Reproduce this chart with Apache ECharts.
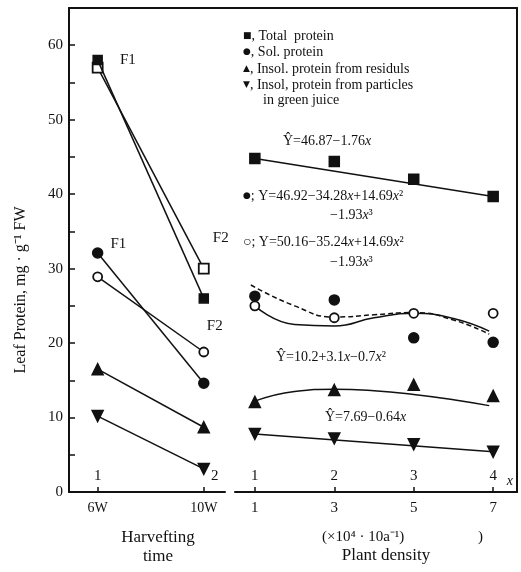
<!DOCTYPE html>
<html><head><meta charset="utf-8">
<script src="https://cdn.jsdelivr.net/npm/echarts@6/dist/echarts.min.js"></script>
<style>html,body{margin:0;padding:0;background:#fff}#c{width:521px;height:572px}</style>
</head><body><div id="c"></div>
<script>
// ---- data ----
const harvestTicks = [1, 2];
const harvestLabels = ['6W', '10W'];
const harvestIndex = ['1', '2'];
const harvestTotal = [58.0, 26.0];
const harvestTotalF2 = [57.0, 30.0];
const harvestSol = [32.1, 14.6];
const harvestSolF2 = [28.9, 18.8];
const harvestResid = [16.5, 8.7];
const harvestParticle = [10.2, 3.1];

const densityTicks = [1, 3, 5, 7];
const densityIndex = ['1', '2', '3', '4'];
const densityTotal = [44.8, 44.4, 42.0, 39.7];
const densitySol = [26.3, 25.8, 20.7, 20.1];
const densitySolOpen = [25.0, 23.4, 24.0, 24.0];
const densityResid = [12.1, 13.7, 14.4, 12.9];
const densityParticle = [7.8, 7.2, 6.4, 5.4];

const fitTotalX = [1, 7];
const fitTotalY = [44.8, 39.7];
const fitSolX = [0.9, 2, 3, 4, 5, 6, 6.9];
const fitSolY = [27.8, 25.0, 23.5, 23.8, 24.1, 23.1, 21.2];
const fitSolOpenX = [1, 2, 3, 4, 5, 6, 6.9];
const fitSolOpenY = [25.0, 22.5, 22.3, 23.4, 24.0, 23.3, 21.6];
const fitResidX = [1, 2, 3, 4, 5, 6, 6.9];
const fitResidY = [12.2, 13.5, 13.8, 13.6, 13.1, 12.4, 11.6];
const fitParticleX = [1, 7];
const fitParticleY = [7.8, 5.4];

const yTicks = [0, 5, 10, 15, 20, 25, 30, 35, 40, 45, 50, 55, 60];
const yLabels = [0, 10, 20, 30, 40, 50, 60];

// ---- styles ----
const FF = 'Liberation Serif';
const BLACK = '#111';
const zip = (xs, ys) => xs.map((x, i) => [x, ys[i]]);

function pointSeries(xi, yi, xs, ys, symbol, size, opts) {
  opts = opts || {};
  return Object.assign({
    type: 'line', xAxisIndex: xi, yAxisIndex: yi,
    data: zip(xs, ys), symbol: symbol, symbolSize: size,
    showSymbol: true, z: 5,
    lineStyle: { color: BLACK, width: 1.5 },
    itemStyle: { color: BLACK, borderColor: BLACK, borderWidth: 1.5 },
    emphasis: { disabled: true }, animation: false
  }, opts);
}
function scatterSeries(xs, ys, symbol, size, opts) {
  return Object.assign({
    type: 'scatter', xAxisIndex: 2, yAxisIndex: 1,
    data: zip(xs, ys), symbol: symbol, symbolSize: size, z: 6,
    itemStyle: { color: BLACK, borderColor: BLACK, borderWidth: 1.5, opacity: 1 },
    emphasis: { disabled: true }, animation: false
  }, opts || {});
}
function fitSeries(xs, ys, smooth, type) {
  return {
    type: 'line', xAxisIndex: 2, yAxisIndex: 1, data: zip(xs, ys),
    smooth: smooth, showSymbol: false, symbol: 'none', z: 3,
    lineStyle: { color: BLACK, width: 1.5, type: type || 'solid' },
    emphasis: { disabled: true }, animation: false
  };
}
function labelled(xs, ys, idx, text, pos, offset) {
  return zip(xs, ys).map((p, i) => i === idx ? {
    value: p,
    label: { show: true, formatter: text, position: pos, offset: offset,
      fontFamily: FF, fontSize: 15, color: BLACK }
  } : p);
}

const rich = {
  i: { fontFamily: FF, fontStyle: 'italic', fontSize: 14, color: BLACK },
  s: { fontFamily: 'DejaVu Sans', fontSize: 9, color: BLACK }
};
function txt(text, left, top, size) {
  return { text: text, left: left, top: top, padding: 0,
    textStyle: { fontFamily: FF, fontSize: size || 14, fontWeight: 'normal', color: BLACK, rich: rich } };
}

const axisLine = { show: true, onZero: false, lineStyle: { color: BLACK, width: 2 } };

const option = {
  backgroundColor: '#fff',
  animation: false,
  title: [
    txt('{s|■}, Total  protein', 243, 29),
    txt('{s|●}, Sol. protein', 243, 45),
    txt('{s|▲}, Insol. protein from residuls', 243, 62),
    txt('{s|▼}, Insol, protein from particles', 243, 78),
    txt('in green juice', 263, 93),
    txt('Ŷ=46.87−1.76{i|x}', 283, 134),
    txt('{s|●}; Y=46.92−34.28{i|x}+14.69{i|x}²', 243, 189),
    txt('−1.93{i|x}³', 330, 208),
    txt('○; Y=50.16−35.24{i|x}+14.69{i|x}²', 243, 235),
    txt('−1.93{i|x}³', 330, 255),
    txt('Ŷ=10.2+3.1{i|x}−0.7{i|x}²', 276, 350),
    txt('Ŷ=7.69−0.64{i|x}', 325, 410),
    txt('(×10⁴ · 10a⁻¹)', 322, 530, 15),
    txt(')', 478, 530, 15)
  ],
  grid: [
    { left: 69, right: 296, top: 8, bottom: 80 },
    { left: 235, right: 4, top: 8, bottom: 80 },
    { left: 69, right: 4, top: 8, bottom: 80 }
  ],
  xAxis: [
    { gridIndex: 0, type: 'value', min: 0.73, max: 2.2, position: 'bottom',
      axisLine: axisLine,
      axisTick: { show: true, inside: true, length: 5, customValues: harvestTicks, lineStyle: { color: BLACK, width: 1.5 } },
      axisLabel: { customValues: harvestTicks, formatter: v => harvestLabels[harvestTicks.indexOf(v)],
        margin: 9, fontFamily: FF, fontSize: 14, color: BLACK },
      splitLine: { show: false },
      name: 'Harvefting\ntime', nameLocation: 'middle', nameGap: 36,
      nameTextStyle: { fontFamily: FF, fontSize: 17, color: BLACK, lineHeight: 19, padding: [0, 0, 0, 22] } },
    { gridIndex: 0, type: 'value', min: 0.73, max: 2.2, position: 'bottom',
      axisLine: { show: false }, axisTick: { show: false }, splitLine: { show: false },
      axisLabel: { inside: true, customValues: harvestTicks, margin: 8,
        formatter: v => (v === 2 ? '{r|' : '{l|') + harvestIndex[harvestTicks.indexOf(v)] + '}',
        rich: { l: { fontFamily: FF, fontSize: 15, color: BLACK },
                r: { fontFamily: FF, fontSize: 15, color: BLACK, padding: [0, 0, 0, 22] } } } },
    { gridIndex: 1, type: 'value', min: 0.5, max: 7.6, position: 'bottom',
      axisLine: axisLine,
      axisTick: { show: true, inside: true, length: 5, customValues: densityTicks, lineStyle: { color: BLACK, width: 1.5 } },
      axisLabel: { customValues: densityTicks, margin: 9, fontFamily: FF, fontSize: 15, color: BLACK },
      splitLine: { show: false },
      name: 'Plant density', nameLocation: 'middle', nameGap: 55,
      nameTextStyle: { fontFamily: FF, fontSize: 17, color: BLACK, padding: [0, 0, 0, 20] } },
    { gridIndex: 1, type: 'value', min: 0.5, max: 7.6, position: 'bottom',
      axisLine: { show: false }, axisTick: { show: false }, splitLine: { show: false },
      axisLabel: { inside: true, customValues: densityTicks, margin: 8,
        formatter: v => densityIndex[densityTicks.indexOf(v)],
        fontFamily: FF, fontSize: 15, color: BLACK },
      name: 'x', nameLocation: 'end', nameGap: -2,
      nameTextStyle: { fontFamily: FF, fontStyle: 'italic', fontSize: 14, color: BLACK,
        align: 'right', verticalAlign: 'bottom', padding: [0, 2, 4, 0] } },
    { gridIndex: 2, type: 'value', min: 0, max: 1, position: 'top',
      axisLine: axisLine, axisTick: { show: false }, axisLabel: { show: false }, splitLine: { show: false } }
  ],
  yAxis: [
    { gridIndex: 0, type: 'value', min: 0, max: 65,
      axisLine: axisLine,
      axisTick: { show: true, inside: true, length: 6, customValues: yTicks, lineStyle: { color: BLACK, width: 1.5 } },
      axisLabel: { customValues: yLabels, margin: 6, fontFamily: FF, fontSize: 15, color: BLACK },
      splitLine: { show: false },
      name: 'Leaf Protein, mg · g⁻¹ FW', nameLocation: 'middle', nameGap: 40, nameRotate: 90,
      nameTextStyle: { fontFamily: FF, fontSize: 16, color: BLACK, padding: [0, 80, 0, 0] } },
    { gridIndex: 1, type: 'value', min: 0, max: 65, show: false },
    { gridIndex: 2, type: 'value', min: 0, max: 65, position: 'right',
      axisLine: axisLine, axisTick: { show: false }, axisLabel: { show: false }, splitLine: { show: false } }
  ],
  series: [
    // harvest time panel
    pointSeries(0, 0, harvestTicks, harvestSolF2, 'circle', 9,
      { data: labelled(harvestTicks, harvestSolF2, 1, 'F2', 'top', [11, -8]),
        itemStyle: { color: '#fff', borderColor: BLACK, borderWidth: 1.8 } }),
    pointSeries(0, 0, harvestTicks, harvestSol, 'circle', 10,
      { data: labelled(harvestTicks, harvestSol, 0, 'F1', 'right', [2, -9]) }),
    pointSeries(0, 0, harvestTicks, harvestTotalF2, 'rect', 10,
      { data: labelled(harvestTicks, harvestTotalF2, 1, 'F2', 'top', [17, -12]),
        itemStyle: { color: '#fff', borderColor: BLACK, borderWidth: 1.8 } }),
    pointSeries(0, 0, harvestTicks, harvestTotal, 'rect', 9,
      { z: 6, data: labelled(harvestTicks, harvestTotal, 0, 'F1', 'right', [12, 0]) }),
    pointSeries(0, 0, harvestTicks, harvestResid, 'triangle', 11),
    pointSeries(0, 0, harvestTicks, harvestParticle, 'triangle', 11, { symbolRotate: 180 }),
    // plant density panel: fitted curves
    fitSeries(fitTotalX, fitTotalY, false),
    fitSeries(fitSolX, fitSolY, 0.5, [5, 3]),
    fitSeries(fitSolOpenX, fitSolOpenY, 0.5),
    fitSeries(fitResidX, fitResidY, 0.5),
    fitSeries(fitParticleX, fitParticleY, false),
    // plant density panel: observed points
    scatterSeries(densityTicks, densityTotal, 'rect', 10),
    scatterSeries(densityTicks, densitySol, 'circle', 10),
    scatterSeries(densityTicks, densitySolOpen, 'circle', 9,
      { itemStyle: { color: '#fff', borderColor: BLACK, borderWidth: 1.8, opacity: 1 } }),
    scatterSeries(densityTicks, densityResid, 'triangle', 11),
    scatterSeries(densityTicks, densityParticle, 'triangle', 11, { symbolRotate: 180 })
  ]
};

const chart = echarts.init(document.getElementById('c'), null, { renderer: 'canvas' });
chart.setOption(option);
</script>
</body></html>
